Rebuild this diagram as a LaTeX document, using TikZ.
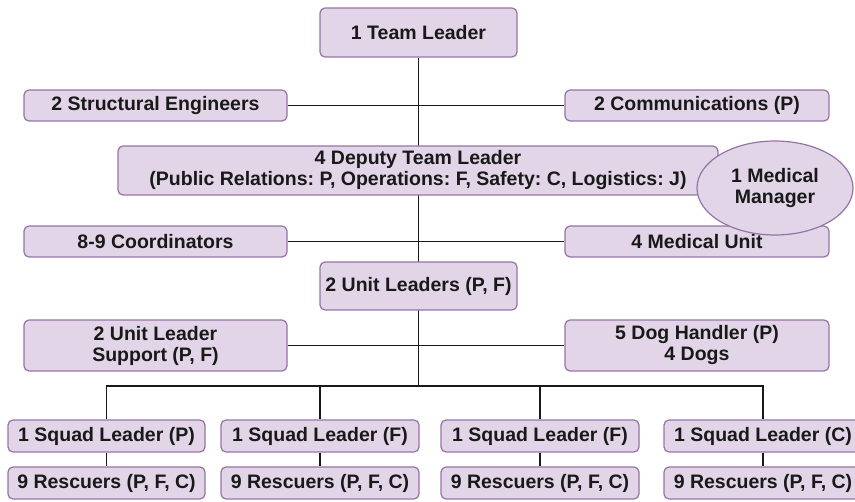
\documentclass[tikz,border=0pt]{standalone}
\usepackage{fontspec}
\setmainfont{Liberation Sans}
\usetikzlibrary{shapes.geometric,backgrounds}
\definecolor{boxfill}{HTML}{E1D5E7}
\definecolor{boxline}{HTML}{9673A6}
\frenchspacing
\begin{document}
\begin{tikzpicture}[x=1pt,y=-1pt,
  unit/.style={draw=boxline, fill=boxfill, rounded corners=5pt, line width=1.2pt,
    font=\fontsize{19.5}{21}\selectfont\bfseries, align=center, inner sep=0pt,
    text=black!90},
  link/.style={line width=1.3pt, draw=black!90}]
\useasboundingbox (0,0) rectangle (855,502);

% boxes
\node[unit, minimum width=197pt, minimum height=49pt] (tl) at (418.5,32.5) {1 Team Leader};
\node[unit, minimum width=263pt, minimum height=31pt] (se) at (155.5,105.5) {2 Structural Engineers};
\node[unit, minimum width=264pt, minimum height=31pt] (cm) at (697,105.5) {2 Communications (P)};
\node[unit, minimum width=600pt, minimum height=49pt] (dtl) at (418,170.5)
  {4 Deputy Team Leader\\(Public Relations: P, Operations: F, Safety: C, Logistics: J)};
\node[unit, minimum width=263pt, minimum height=31pt] (co) at (155.5,241.5) {8-9 Coordinators};
\node[unit, minimum width=264pt, minimum height=31pt] (mu) at (697,241.5) {4 Medical Unit};
\node[unit, ellipse, rounded corners=0pt, minimum width=156pt, minimum height=94pt] (mm) at (775,188) {1 Medical\\Manager};
\node[unit, minimum width=197pt, minimum height=48pt] (ul) at (418.5,286) {2 Unit Leaders (P, F)};
\node[unit, minimum width=263pt, minimum height=51pt] (uls) at (155.5,345.5) {2 Unit Leader\\Support (P, F)};
\node[unit, minimum width=264pt, minimum height=51pt] (dog) at (697,345.5) {5 Dog Handler (P)\\4 Dogs};

\node[unit, minimum width=197pt, minimum height=32pt] (sq1) at (106.5,436) {1 Squad Leader (P)};
\node[unit, minimum width=198pt, minimum height=32pt] (sq2) at (320,436) {1 Squad Leader (F)};
\node[unit, minimum width=198pt, minimum height=32pt] (sq3) at (540,436) {1 Squad Leader (F)};
\node[unit, minimum width=198pt, minimum height=32pt] (sq4) at (763,436) {1 Squad Leader (C)};
\node[unit, minimum width=197pt, minimum height=32pt] (rs1) at (106.5,483) {9 Rescuers (P, F, C)};
\node[unit, minimum width=198pt, minimum height=32pt] (rs2) at (320,483) {9 Rescuers (P, F, C)};
\node[unit, minimum width=198pt, minimum height=32pt] (rs3) at (540,483) {9 Rescuers (P, F, C)};
\node[unit, minimum width=198pt, minimum height=32pt] (rs4) at (763,483) {9 Rescuers (P, F, C)};

\coordinate (bus) at (418.5,386);

% connectors, kept behind the boxes
\begin{pgfonlayer}{background}
  \draw[link] (tl.south) -- (bus);
  \draw[link] (se.east) -- (cm.west);
  \draw[link] (co.east) -- (mu.west);
  \draw[link] (uls.east) -- (dog.west);
  \foreach \s/\r in {sq1/rs1, sq2/rs2, sq3/rs3, sq4/rs4} {
    \draw[link] (bus) -| (\s.north);
    \draw[link] (\s.south) -- (\r.north);
  }
\end{pgfonlayer}
\end{tikzpicture}
\end{document}
